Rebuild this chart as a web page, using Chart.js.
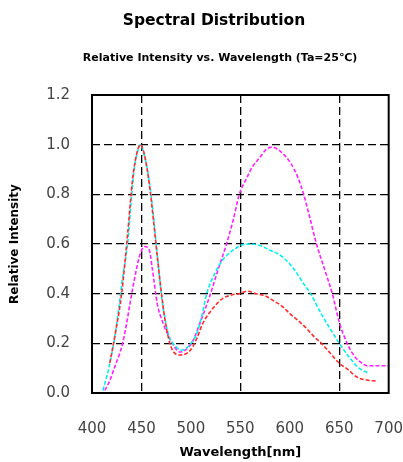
<!DOCTYPE html>
<html>
<head>
<meta charset="utf-8">
<script src="https://cdn.jsdelivr.net/npm/chart.js@4/dist/chart.umd.min.js"></script>
<style>
  html, body { margin: 0; padding: 0; background: #fff; overflow: hidden; }
  #wrap { width: 403px; height: 462px; }
</style>
</head>
<body>
<div id="wrap"><canvas id="myChart"></canvas></div>
<script>
// values (wavelength nm, relative intensity)
var redX = [418, 424, 430, 436, 441, 445, 449, 453, 458, 462, 466, 470, 474, 480, 489, 499, 506, 512, 522, 532, 541, 549, 557, 566, 576, 584, 592, 600, 609, 617, 625, 632, 641, 650, 658, 668, 678, 688];
var redY = [0.12, 0.25, 0.40, 0.64, 0.86, 0.96, 1.00, 0.96, 0.84, 0.70, 0.55, 0.41, 0.29, 0.185, 0.153, 0.17, 0.22, 0.28, 0.34, 0.38, 0.395, 0.40, 0.41, 0.40, 0.39, 0.37, 0.35, 0.32, 0.29, 0.26, 0.225, 0.20, 0.16, 0.12, 0.097, 0.064, 0.052, 0.048];

var cyanX = [411, 417, 423, 427, 431, 436, 440, 443, 446, 449, 452, 456, 460, 465, 470, 477, 484, 491, 498, 506, 511, 516, 524, 532, 541, 551, 560, 569, 580, 592, 604, 614, 621, 629, 636, 643, 650, 660, 670, 680];
var cyanY = [0.01, 0.10, 0.225, 0.34, 0.467, 0.60, 0.79, 0.91, 0.97, 1.00, 0.97, 0.90, 0.79, 0.60, 0.40, 0.24, 0.19, 0.173, 0.19, 0.24, 0.31, 0.40, 0.48, 0.535, 0.57, 0.595, 0.60, 0.595, 0.575, 0.55, 0.50, 0.44, 0.40, 0.34, 0.29, 0.245, 0.20, 0.145, 0.10, 0.08];

var magX = [413, 418, 423, 428, 431, 435, 438, 443, 448, 453, 458, 461, 466, 472, 480, 489, 495, 502, 510, 519, 527, 536, 543, 549, 557, 562, 570, 576, 582, 590, 601, 608, 614, 620, 627, 635, 643, 650, 658, 665, 673, 678, 689, 700];
var magY = [0.01, 0.05, 0.105, 0.16, 0.20, 0.28, 0.35, 0.46, 0.55, 0.59, 0.575, 0.50, 0.36, 0.28, 0.21, 0.165, 0.175, 0.21, 0.29, 0.39, 0.49, 0.60, 0.70, 0.80, 0.87, 0.91, 0.95, 0.98, 0.99, 0.975, 0.925, 0.87, 0.80, 0.71, 0.60, 0.50, 0.40, 0.285, 0.20, 0.15, 0.12, 0.11, 0.11, 0.11];

var xTicks = [400, 450, 500, 550, 600, 650, 700];
var yTicks = [0.0, 0.2, 0.4, 0.6, 0.8, 1.0, 1.2];
var xGrid = [450, 550, 650];

var titleText = 'Spectral Distribution';
var subText = 'Relative Intensity vs. Wavelength (Ta=25℃)';

function pts(xs, ys) {
    return xs.map(function (x, i) { return { x: x, y: ys[i] }; });
}

// frame round the plot area + the two heading lines
var frame = {
    id: 'frame',
    afterDraw: function (chart) {
        var a = chart.chartArea, c = chart.ctx;
        c.save();
        c.strokeStyle = '#000';
        c.lineWidth = 2;
        c.strokeRect(a.left, a.top, a.right - a.left, a.bottom - a.top);
        c.fillStyle = '#000';
        c.textAlign = 'center';
        c.textBaseline = 'middle';
        c.font = 'bold 15.5px "DejaVu Sans"';
        c.fillText(titleText, 214, 21);
        c.font = 'bold 11px "DejaVu Sans"';
        c.fillText(subText, 220, 58);
        c.restore();
    }
};

var tickFont = { family: 'DejaVu Sans', size: 15 };
var clear = 'rgba(0,0,0,0)';

function line(label, xs, ys, colour) {
    return {
        label: label,
        data: pts(xs, ys),
        borderColor: colour,
        borderWidth: 1.6,
        borderDash: [4, 2],
        pointRadius: 0,
        cubicInterpolationMode: 'monotone',
        fill: false
    };
}

new Chart(document.getElementById('myChart'), {
    type: 'line',
    data: {
        datasets: [
            line('red', redX, redY, '#ff2a2a'),
            line('cyan', cyanX, cyanY, '#00f0f0'),
            line('magenta', magX, magY, '#ff20ff')
        ]
    },
    options: {
        responsive: true,
        maintainAspectRatio: false,
        animation: false,
        layout: { padding: { left: 4, right: 13, top: 95, bottom: 0 } },
        plugins: {
            legend: { display: false },
            tooltip: { enabled: false }
        },
        scales: {
            x: {
                type: 'linear',
                min: 400,
                max: 700,
                afterBuildTicks: function (s) { s.ticks = xTicks.map(function (v) { return { value: v }; }); },
                afterFit: function (s) { s.height = 69; },
                ticks: { color: '#444', font: tickFont, padding: 0, maxRotation: 0 },
                grid: {
                    drawTicks: true,
                    tickLength: 27,
                    tickColor: clear,
                    lineWidth: 1.3,
                    color: function (ctx) { return xGrid.indexOf(ctx.tick.value) >= 0 ? '#000' : clear; }
                },
                border: { display: false, dash: [8, 4] },
                title: { display: true, text: 'Wavelength[nm]', color: '#000', font: { family: 'DejaVu Sans', size: 13, weight: 'bold' }, padding: { top: 0, bottom: 2 } }
            },
            y: {
                min: 0,
                max: 1.2,
                afterBuildTicks: function (s) { s.ticks = yTicks.map(function (v) { return { value: v }; }); },
                afterFit: function (s) { s.width = 88; },
                ticks: { color: '#444', font: tickFont, padding: 0, callback: function (v) { return v.toFixed(1); } },
                grid: {
                    drawTicks: true,
                    tickLength: 22,
                    tickColor: clear,
                    lineWidth: 1.3,
                    color: function (ctx) { var v = ctx.tick.value; return (v > 0.01 && v < 1.19) ? '#000' : clear; }
                },
                border: { display: false, dash: [8, 4] },
                title: { display: true, text: 'Relative Intensity', color: '#000', font: { family: 'DejaVu Sans', size: 12, weight: 'bold' }, padding: { top: 4, bottom: 0 } }
            }
        }
    },
    plugins: [frame]
});
</script>
</body>
</html>
